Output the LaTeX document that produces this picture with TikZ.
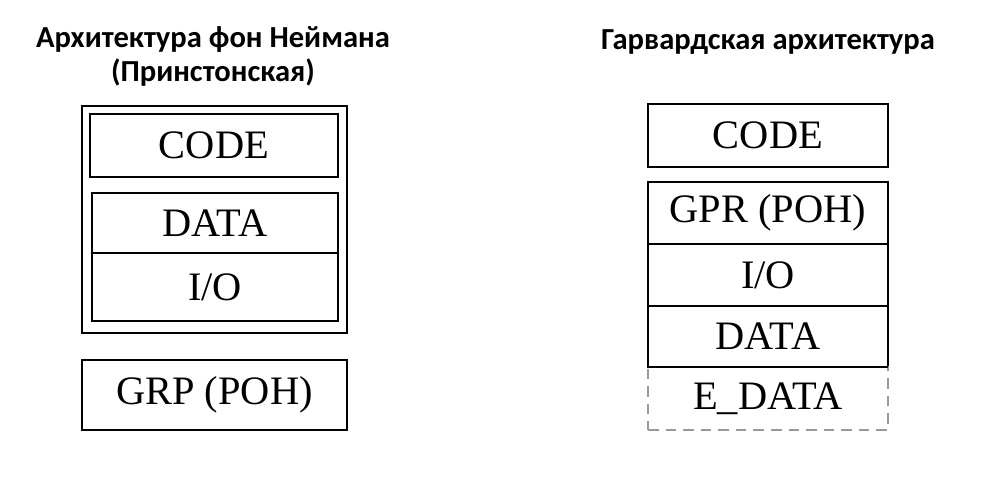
\documentclass[tikz,border=0pt]{standalone}
\usepackage{fontspec}
\setmainfont{Liberation Serif}
\newfontfamily\titlefont{Carlito}
\usetikzlibrary{positioning}
\tikzset{
  membox/.style={
    rectangle, draw=black, line width=1.6pt,
    minimum width=#1, minimum height=1.26cm,
    inner sep=0pt, outer sep=0pt, text centered,
    font=\fontsize{23}{26}\selectfont
  },
  extbox/.style={
    membox=#1, draw=gray!80, line width=1pt,
    dash pattern=on 6pt off 4pt
  },
  frame/.style={
    rectangle, draw=black, line width=1.6pt,
    minimum width=5.3cm, minimum height=4.54cm
  },
  titletext/.style={
    align=center, font=\titlefont\bfseries\fontsize{17.4}{19}\selectfont
  },
}

\begin{document}
\begin{tikzpicture}
  \useasboundingbox (0,0) rectangle (19.86,-9.76);

  % von Neumann
  \node[titletext] (vntitle) at (4.26,-1.13) {Архитектура фон Неймана\\(Принстонская)};

  \node[frame] (vnframe) at (4.29,-4.39) {};
  \node[membox=4.96cm] (vncode) at (4.28,-2.91) {CODE};
  \node[membox=4.92cm, minimum height=1.2cm] (vndata) at (4.30,-4.46) {DATA};
  \node[membox=4.92cm, minimum height=1.36cm, below=0pt of vndata] (vnio) {I/O};
  \node[membox=5.3cm, minimum height=1.4cm] (vngpr) at (4.29,-7.9) {GRP (POH)};

  % Harvard
  \node[titletext] (hvtitle) at (15.36,-0.84) {Гарвардская архитектура};

  \node[membox=4.8cm] (hvcode) at (15.36,-2.71) {CODE};
  \node[membox=4.8cm, minimum height=1.24cm] (hvgpr) at (15.36,-4.26) {GPR (POH)};
  \node[membox=4.8cm, minimum height=1.24cm, below=0pt of hvgpr] (hvio) {I/O};
  \node[membox=4.8cm, minimum height=1.22cm, below=0pt of hvio] (hvdata) {DATA};
  \node[extbox=4.8cm, below=0pt of hvdata] (hvedata) {E\_DATA};
  \draw[line width=1.6pt] (hvdata.south west) -- (hvdata.south east);
\end{tikzpicture}
\end{document}
